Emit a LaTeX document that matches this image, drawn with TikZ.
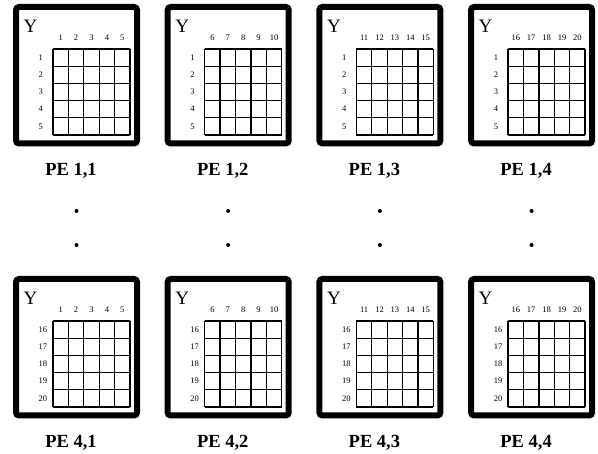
\documentclass[tikz,border=0pt]{standalone}
\usepackage{fontspec}
\setmainfont{Liberation Serif}
\begin{document}
\begin{tikzpicture}[x=1pt,y=-1pt,
  frame/.style={line width=6pt, rounded corners=3pt},
  gridline/.style={line width=1.3pt},
  idx/.style={font=\fontsize{8.5}{9}\selectfont, inner sep=0pt},
  ylab/.style={font=\fontsize{19}{20}\selectfont, inner sep=0pt},
  pelab/.style={font=\bfseries\fontsize{18.5}{20}\selectfont, inner sep=0pt},
  dotmark/.style={circle, fill=black, inner sep=0pt, minimum size=4pt}]
\useasboundingbox (0,0) rectangle (598,454);
\foreach \cc in {1,...,4} {
  \pgfmathsetmacro\bx{13+151.7*(\cc-1)}
  \foreach \rr/\T/\rb in {1/4/0, 4/276/15} {
    \draw[frame] (\bx+3,\T+3) rectangle (\bx+124,\T+139.5);
    \foreach \i in {0,...,5} {
      \draw[gridline] (\bx+40+15.4*\i,\T+45) -- (\bx+40+15.4*\i,\T+131);
      \draw[gridline] (\bx+40,\T+45+17.2*\i) -- (\bx+117,\T+45+17.2*\i);
    }
    \foreach \j in {1,...,5} {
      \pgfmathtruncatemacro\cn{5*(\cc-1)+\j}
      \pgfmathtruncatemacro\rn{\rb+\j}
      \node[idx] (col-\rr-\cc-\j) at (\bx+40+15.4*\j-7.7,\T+34) {\cn};
      \node[idx,anchor=west] (row-\rr-\cc-\j) at (\bx+25.5,\T+45+17.2*\j-8.6) {\rn};
    }
    \node[ylab] (y-\rr-\cc) at (\bx+17.5,\T+22.5) {Y};
    \node[pelab] (pe-\rr-\cc) at (\bx+58,\T+166.5) {PE \rr,\cc};
  }
  \node[dotmark] (dota-\cc) at (\bx+63.5,211) {};
  \node[dotmark] (dotb-\cc) at (\bx+63.5,245) {};
}
\end{tikzpicture}
\end{document}
